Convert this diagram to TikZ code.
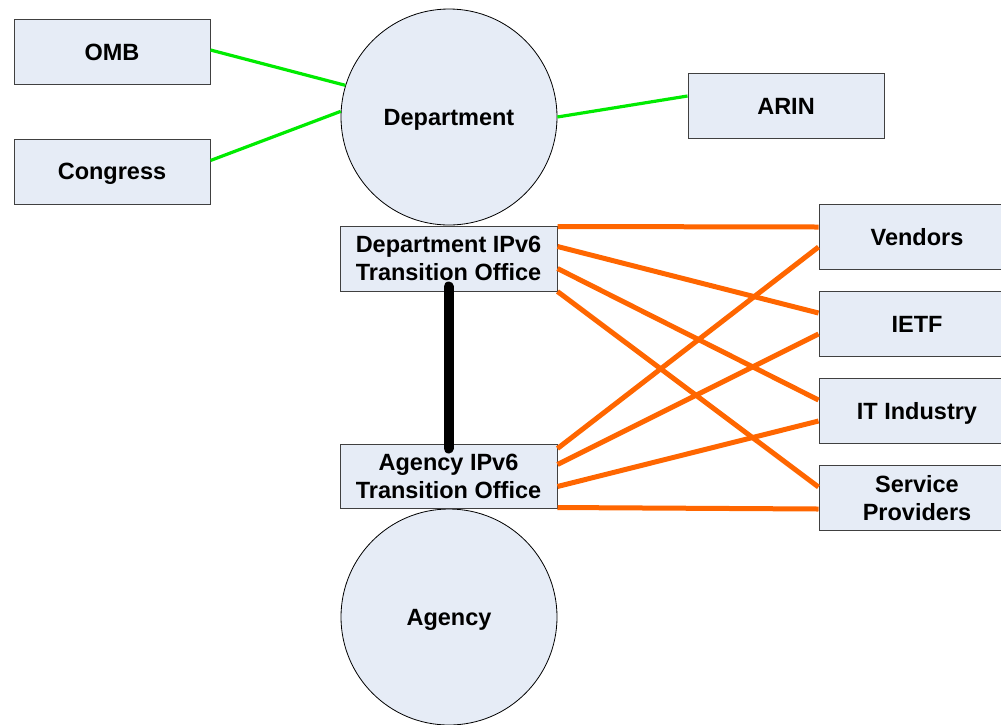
\documentclass[tikz,border=0pt]{standalone}
\usepackage{fontspec}
\setmainfont{Liberation Sans}
\usetikzlibrary{calc}
\definecolor{boxfill}{RGB}{230,236,246}
\definecolor{boxline}{RGB}{64,64,64}
\definecolor{orangeln}{RGB}{255,102,0}
\definecolor{greenln}{RGB}{0,235,0}
\begin{document}
\begin{tikzpicture}[x=1pt,y=-1pt,
  every node/.style={font=\fontsize{23.5}{28}\selectfont\bfseries, text=black, align=center},
  box/.style={draw=boxline, line width=1pt, fill=boxfill, rectangle, inner sep=0pt, text depth=0pt, minimum width=196pt, minimum height=65pt},
  officebox/.style={box, minimum width=217pt},
  org/.style={draw=black, line width=0.8pt, fill=boxfill, circle, inner sep=0pt, text depth=0pt, minimum size=216pt},
  greenlink/.style={draw=greenln, line width=3.2pt},
  orangelink/.style={draw=orangeln, line width=5pt},
  blacklink/.style={draw=black, line width=10pt, line cap=round}]
\useasboundingbox (0,0) rectangle (1001,724);
\node[box] (omb) at (112,52) {OMB};
\node[box] (congress) at (112,171.5) {Congress};
\node[box] (arin) at (786,106) {ARIN};
\node[org] (dept) at (449,117) {Department};
\node[org] (agency) at (449,617) {Agency};
\node[officebox] (dto) at (448.5,258.5) {Department IPv6\\Transition Office};
\node[officebox, minimum height=64pt] (ato) at (448.5,476) {Agency IPv6\\Transition Office};
\node[box] (vendors) at (917,237) {Vendors};
\node[box] (ietf) at (917,324) {IETF};
\node[box] (itind) at (917,410.5) {IT Industry};
\node[box] (sp) at (917,498) {Service\\Providers};
% green links
\draw[greenlink] ([yshift=2pt]omb.east) -- (dept.163);
\draw[greenlink] ([yshift=11pt]congress.east) -- (dept.177.5);
\draw[greenlink] (dept.east) -- ([yshift=10pt]arin.west);
% orange links from department office
\draw[orangelink] ([yshift=-1pt]dto.north east) -- ([yshift=10pt]vendors.west);
\draw[orangelink] ([yshift=-21pt]dto.north east) -- ([yshift=11pt]ietf.west);
\draw[orangelink] ([yshift=-43pt]dto.north east) -- ([yshift=10.5pt]itind.west);
\draw[orangelink] (dto.south east) -- ([yshift=11pt]sp.west);
% orange links from agency office
\draw[orangelink] ([yshift=-5pt]ato.north east) -- ([yshift=-10pt]vendors.west);
\draw[orangelink] ([yshift=-21pt]ato.north east) -- ([yshift=-10pt]ietf.west);
\draw[orangelink] ([yshift=-43pt]ato.north east) -- ([yshift=-10.5pt]itind.west);
\draw[orangelink] ([yshift=1pt]ato.south east) -- ([yshift=-11pt]sp.west);
% black link
\draw[blacklink] ([yshift=5pt]dto.south) -- ([yshift=-5pt]ato.north);
\end{tikzpicture}
\end{document}
